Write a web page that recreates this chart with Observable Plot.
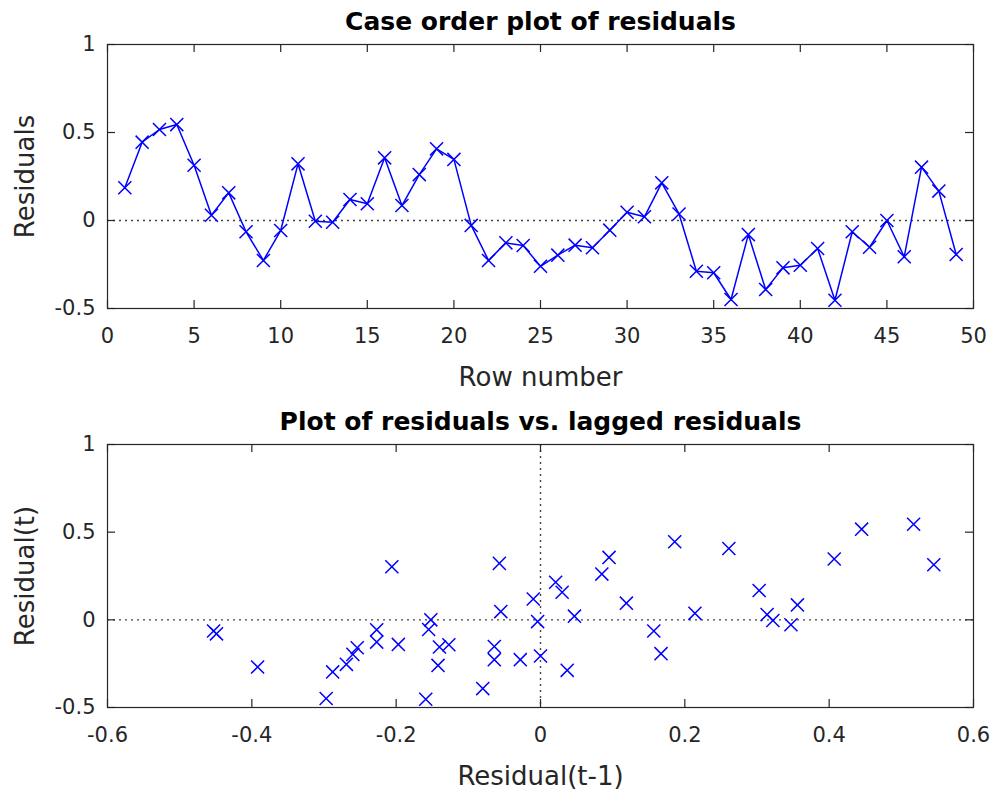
<!DOCTYPE html>
<html><head><meta charset="utf-8">
<script src="https://cdn.jsdelivr.net/npm/d3@7"></script>
<script src="https://cdn.jsdelivr.net/npm/@observablehq/plot@0.6"></script>
<style>
body{margin:0;background:#fff;}
#chart svg{display:block;}
</style></head><body><div id="chart"></div>
<script>
const residuals = [0.186,0.445,0.517,0.545,0.314,0.03,0.157,-0.064,-0.227,-0.057,0.322,-0.004,-0.01,0.119,0.095,0.356,0.085,0.261,0.407,0.347,-0.028,-0.227,-0.127,-0.142,-0.26,-0.197,-0.14,-0.155,-0.055,0.047,0.021,0.214,0.037,-0.288,-0.297,-0.449,-0.08,-0.392,-0.269,-0.254,-0.159,-0.453,-0.064,-0.152,0.0,-0.206,0.303,0.167,-0.193];
const rowTicks = [0,5,10,15,20,25,30,35,40,45,50];
const residualTicks = [-0.5,0,0.5,1];
const lagTicks = [-0.6,-0.4,-0.2,0,0.2,0.4,0.6];
const titles = ["Case order plot of residuals","Plot of residuals vs. lagged residuals"];
const xLabels = ["Row number","Residual(t-1)"];
const yLabels = ["Residuals","Residual(t)"];

const caseData = residuals.map((r,i)=>({row:i+1, r}));
const lagData = residuals.slice(1).map((r,i)=>({prev:residuals[i], r}));

const W=995, ML=107, MR=22, MB=90, TICK=8;
const FW = W-ML-MR;
const font = "DejaVu Sans, sans-serif";
const axisColor="#262626";
const blue="#0000ff";
const fmt = d=>String(d);

function panel({height, marginTop, xDomain, xTicks, title, xLabel, yLabel, marks}) {
  const fh = height - marginTop - MB;
  return Plot.plot({
    width: W, height, marginTop, marginBottom: MB, marginLeft: ML, marginRight: MR,
    style: {fontFamily: font, fontSize: "21px", color: axisColor, background: "white", overflow:"visible"},
    x: {domain: xDomain},
    y: {domain: [-0.5,1]},
    marks: [
      ...marks,
      Plot.frame({stroke: axisColor, strokeWidth: 1.2}),
      Plot.tickX(xTicks, {x: d=>d, insetTop: fh-TICK, stroke: axisColor, strokeWidth:1.2}),
      Plot.tickX(xTicks, {x: d=>d, insetBottom: fh-TICK, stroke: axisColor, strokeWidth:1.2}),
      Plot.tickY(residualTicks, {y: d=>d, insetRight: FW-TICK, stroke: axisColor, strokeWidth:1.2}),
      Plot.tickY(residualTicks, {y: d=>d, insetLeft: FW-TICK, stroke: axisColor, strokeWidth:1.2}),
      Plot.axisX({ticks: xTicks, tickSize: 0, tickPadding: 20, label: null, tickFormat: fmt, fill: axisColor}),
      Plot.axisY({ticks: residualTicks, tickSize: 0, tickPadding: 12, label: null, tickFormat: fmt, fill: axisColor}),
      Plot.text([title], {text: d=>d, frameAnchor:"top", dy:-32, fontSize:25, fontWeight:"bold", fill:"#000"}),
      Plot.text([xLabel], {text: d=>d, frameAnchor:"bottom", dy:77, fontSize:26, fill:axisColor}),
      Plot.text([yLabel], {text: d=>d, frameAnchor:"left", textAnchor:"middle", rotate:-90, dx:-82, fontSize:26, fill:axisColor})
    ]
  });
}

const topPanel = panel({
  height: 398, marginTop: 44, xDomain: [0,50], xTicks: rowTicks,
  title: titles[0], xLabel: xLabels[0], yLabel: yLabels[0],
  marks: [
    Plot.ruleY([0], {stroke:"#444", strokeDasharray:"2,4", strokeWidth:1.4}),
    Plot.line(caseData, {x:"row", y:"r", stroke: blue, strokeWidth:1.5, clip:true}),
    Plot.dot(caseData, {x:"row", y:"r", symbol:"times", r:6, stroke: blue, strokeWidth:1.5, clip:true})
  ]
});
const bottomPanel = panel({
  height: 399, marginTop: 46, xDomain: [-0.6,0.6], xTicks: lagTicks,
  title: titles[1], xLabel: xLabels[1], yLabel: yLabels[1],
  marks: [
    Plot.ruleY([0], {stroke:"#444", strokeDasharray:"2,4", strokeWidth:1.4}),
    Plot.ruleX([0], {stroke:"#444", strokeDasharray:"2,4", strokeWidth:1.4}),
    Plot.dot(lagData, {x:"prev", y:"r", symbol:"times", r:6, stroke: blue, strokeWidth:1.5, clip:true})
  ]
});
document.getElementById("chart").append(topPanel, bottomPanel);
</script></body></html>
